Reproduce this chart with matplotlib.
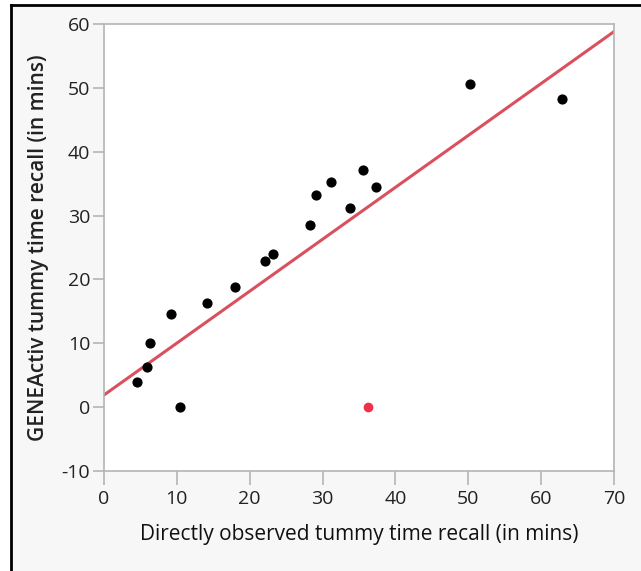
import matplotlib.pyplot as plt
import numpy as np

# observed (x) vs GENEActiv (y) tummy time recall, minutes
observed = [4.5, 5.9, 6.3, 9.2, 10.4, 14.1, 18.0, 22.1, 23.2, 28.3, 29.1, 31.1,
            33.7, 35.5, 37.3, 50.2, 62.9]
geneactiv = [3.9, 6.3, 10.0, 14.6, 0.1, 16.3, 18.8, 22.9, 24.0, 28.5, 33.2, 35.3,
             31.2, 37.1, 34.5, 50.6, 48.3]
# excluded point (shown in red)
excl_x = [36.3]
excl_y = [0.1]
# fitted line
fit_intercept = 1.9
fit_slope = 0.813

xticks = [0, 10, 20, 30, 40, 50, 60, 70]
yticks = [-10, 0, 10, 20, 30, 40, 50, 60]

plt.rcParams['font.family'] = ['Open Sans', 'DejaVu Sans']
plt.rcParams['axes.unicode_minus'] = False

fig = plt.figure(figsize=(6.41, 5.71), dpi=100, facecolor="white")
# light grey panel with a black frame on top and left
fig.patches.append(plt.Rectangle((11/641, 0), 1, 1 - 5/571, transform=fig.transFigure,
                                 facecolor="#f7f7f7", edgecolor="none", zorder=-2))
fig.lines.append(plt.Line2D([11/641, 11/641], [0, 1 - 5/571], transform=fig.transFigure,
                            color="black", lw=2))
fig.lines.append(plt.Line2D([11/641, 1], [1 - 5/571, 1 - 5/571], transform=fig.transFigure,
                            color="black", lw=2))

ax = fig.add_axes([104/641, 1 - 471/571, 510/641, 447/571])
ax.set_facecolor("white")

xs = np.array([0, 70])
ax.plot(xs, fit_intercept + fit_slope * xs, color="#d9505e", lw=2.2, zorder=2)
ax.scatter(observed, geneactiv, s=40, color="black", zorder=3)
ax.scatter(excl_x, excl_y, s=36, color="#f0304a", zorder=3)

ax.set_xlim(0, 70)
ax.set_ylim(-10, 60)
ax.set_xticks(xticks)
ax.set_yticks(yticks)
for s in ax.spines.values():
    s.set_color("#b4b4b4")
    s.set_linewidth(1.2)
ax.tick_params(axis="x", length=10, width=1.2, color="#b4b4b4", labelcolor="#222222", pad=4)
ax.tick_params(axis="y", length=8, width=1.2, color="#b4b4b4", labelcolor="#222222", pad=2)
for lab in ax.get_xticklabels() + ax.get_yticklabels():
    lab.set_family(['Liberation Sans Narrow', 'Open Sans'])
    lab.set_fontsize(14)

ax.set_xlabel("Directly observed tummy time recall (in mins)", fontsize=15,
              color="#111111", labelpad=11)
ax.set_ylabel("GENEActiv tummy time recall (in mins)", fontsize=15,
              fontweight="semibold", color="#222222", labelpad=9)

fig.savefig("out.png", dpi=100, facecolor=fig.get_facecolor())
